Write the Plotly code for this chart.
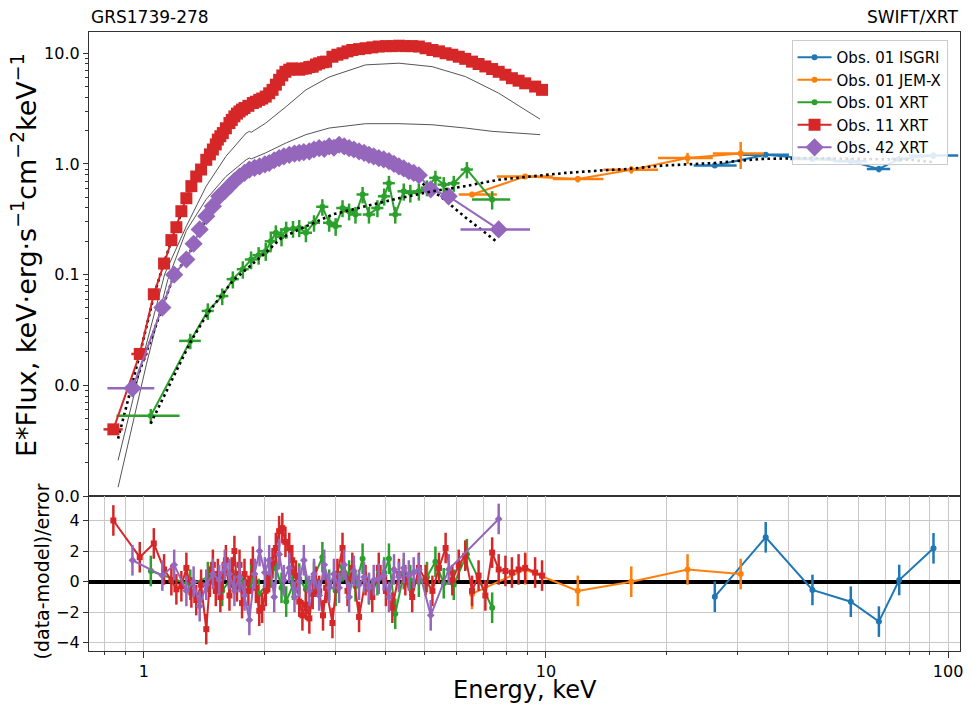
import plotly.graph_objects as go

# ---------------- data ----------------
RED_E = [0.84, 0.977, 1.059, 1.123, 1.171, 1.205, 1.24, 1.276, 1.313, 1.35,
         1.388, 1.43, 1.46, 1.485, 1.51, 1.528, 1.55, 1.572, 1.60, 1.633,
         1.655, 1.68, 1.705, 1.73, 1.755, 1.78, 1.82, 1.867, 1.90, 1.937,
         1.97, 2.01, 2.05, 2.09, 2.13, 2.17, 2.21, 2.25, 2.30, 2.34,
         2.39, 2.435, 2.48, 2.53, 2.58, 2.63, 2.68, 2.73, 2.79, 2.84,
         2.945, 3.03, 3.12, 3.21, 3.30, 3.43, 3.56, 3.70, 3.84, 4.00,
         4.15, 4.31, 4.47, 4.65, 4.83, 5.02, 5.22, 5.42, 5.63, 5.85,
         6.07, 6.30, 6.55, 6.80, 7.07, 7.35, 7.63, 7.93, 8.23, 8.55,
         8.88, 9.40, 9.78]
RED_F = [0.0040, 0.0192, 0.0665, 0.126, 0.205, 0.268, 0.374, 0.49, 0.63, 0.77,
         0.89, 1.09, 1.22, 1.35, 1.50, 1.66, 1.78, 1.90, 2.10, 2.34,
         2.50, 2.69, 2.85, 2.98, 3.10, 3.20, 3.35, 3.55, 3.65, 3.79,
         3.90, 4.06, 4.35, 4.67, 5.20, 5.75, 6.30, 6.80, 7.10, 7.30,
         7.20, 7.10, 7.25, 7.30, 7.50, 7.56, 7.90, 8.10, 8.30, 8.40,
         9.30, 9.70, 10.0, 10.4, 10.7, 10.9, 11.1, 11.3, 11.5, 11.6,
         11.6, 11.7, 11.6, 11.6, 11.5, 11.1, 10.7, 10.4, 10.0, 9.7,
         9.3, 8.9, 8.4, 8.0, 7.6, 7.2, 6.8, 6.4, 5.95, 5.65,
         5.35, 5.0, 4.67]
RED_XERR = [0.046, 0.046] + [0.0] * 81
RED_RES = [4.0, 1.6, 2.5, 0.8, 0.1, -0.5, -0.3, 0.9, -0.7, -1.2,
           -0.2, -3.1, 0.0, 1.1, -0.6, 0.5, -1.0, 0.3, 1.4, -0.9,
           0.6, 2.0, -0.3, 1.1, -1.4, 0.5, -0.6, 1.3, -0.4, -1.9,
           -1.7, -0.6, 0.3, 1.2, 2.2, 3.3, 3.5, 2.6, 2.2, 1.4,
           0.4, -1.3, -2.2, -1.5, -2.4, -0.8, 0.0, -0.6, -2.2, -0.4,
           -2.7, 0.5, 2.2, -0.6, 0.9, -2.3, 0.1, -1.0, 0.9, -0.6,
           -1.7, 0.5, 0.1, -1.0, 0.9, 0.1, -0.6, 0.9, 2.2, 0.1,
           1.1, 1.7, -0.6, 0.4, -0.9, 1.9, 0.8, 0.7, 0.6, 0.8,
           0.9, 0.6, 0.4]

PURPLE_E = [0.937, 1.112, 1.19, 1.276, 1.33, 1.377, 1.43, 1.485, 1.54, 1.59,
            1.633, 1.68, 1.73, 1.78, 1.83, 1.885, 1.94, 2.00, 2.05, 2.11,
            2.17, 2.23, 2.30, 2.37, 2.435, 2.50, 2.58, 2.65, 2.73, 2.81,
            2.89, 2.97, 3.06, 3.15, 3.24, 3.33, 3.43, 3.53, 3.63, 3.73,
            3.84, 3.95, 4.07, 4.19, 4.31, 4.43, 4.56, 4.69, 4.83, 5.17,
            5.73, 7.63]
PURPLE_F = [0.0094, 0.0504, 0.100, 0.137, 0.190, 0.256, 0.337, 0.415, 0.51, 0.57,
            0.63, 0.70, 0.77, 0.83, 0.89, 0.92, 0.95, 0.99, 1.02, 1.08,
            1.13, 1.17, 1.21, 1.24, 1.26, 1.28, 1.30, 1.35, 1.39, 1.37,
            1.44, 1.40, 1.49, 1.44, 1.39, 1.35, 1.30, 1.26, 1.21, 1.17,
            1.13, 1.10, 1.06, 1.00, 0.95, 0.91, 0.86, 0.83, 0.79, 0.59,
            0.51, 0.256]
PURPLE_XERR = [0.125] + [0.0] * 50 + [1.5]
PURPLE_RES = [1.4, 0.4, 1.1, -0.6, 0.0, -1.6, -0.2, 0.5, 0.1, 1.1,
              0.5, -0.6, 0.3, -0.9, -2.5, 0.5, 2.0, 0.6, 1.4, -1.0,
              1.8, 0.1, 0.9, -1.0, 0.0, 1.4, -0.6, 0.5, -0.9, 1.1,
              -0.4, 0.5, -0.4, 1.1, -1.0, 0.7, -0.2, 0.3, -0.4, 0.1,
              0.2, 0.4, -1.0, 0.8, 0.3, 0.9, 0.4, 0.6, 0.8, -2.2,
              0.8, 4.1]

GREEN_E = [1.041, 1.305, 1.443, 1.567, 1.665, 1.763, 1.848, 1.93, 2.01, 2.07,
           2.13, 2.20, 2.26, 2.35, 2.435, 2.53, 2.65, 2.78, 2.89, 3.00,
           3.12, 3.24, 3.36, 3.50, 3.63, 3.81, 3.96, 4.07, 4.22, 4.43,
           4.60, 4.83, 5.06, 5.31, 5.57, 5.90, 6.36, 7.35]
GREEN_F = [0.0053, 0.0252, 0.047, 0.064, 0.091, 0.112, 0.137, 0.150, 0.163, 0.200,
           0.239, 0.220, 0.256, 0.260, 0.265, 0.239, 0.294, 0.41, 0.294, 0.274,
           0.40, 0.374, 0.349, 0.53, 0.349, 0.40, 0.51, 0.67, 0.349, 0.566,
           0.548, 0.566, 0.61, 0.748, 0.65, 0.67, 0.89, 0.477]
GREEN_YERR = [0.0008, 0.004, 0.008, 0.011, 0.016, 0.02, 0.025, 0.027, 0.03, 0.035,
              0.04, 0.04, 0.045, 0.045, 0.047, 0.043, 0.05, 0.07, 0.05, 0.05,
              0.07, 0.065, 0.06, 0.09, 0.06, 0.07, 0.09, 0.11, 0.06, 0.1,
              0.1, 0.1, 0.1, 0.12, 0.11, 0.11, 0.15, 0.09]
GREEN_XERR = [0.186, 0.081, 0.05, 0.055, 0.058, 0.06, 0.065, 0.067, 0.07, 0.072,
              0.075, 0.077, 0.08, 0.08, 0.085, 0.09, 0.093, 0.097, 0.1, 0.105,
              0.11, 0.113, 0.118, 0.12, 0.127, 0.133, 0.14, 0.14, 0.15, 0.155,
              0.16, 0.17, 0.18, 0.185, 0.195, 0.2, 0.22, 0.8]
GREEN_RES = [0.7, -0.2, 0.3, -0.6, 0.4, -0.5, 0.2, -0.8, -0.3, 0.6,
             0.9, -0.4, -1.3, -0.2, 0.2, -0.5, 0.3, 1.6, -0.2, -0.6,
             1.0, 0.4, -0.3, 1.5, -0.5, 0.1, 0.6, 1.5, -2.1, 0.5,
             0.1, 0.0, 0.3, 1.3, -0.1, -0.2, 1.8, -1.7]

JEMX_E = [6.55, 8.88, 12.0, 16.3, 22.5, 30.5]
JEMX_F = [0.53, 0.77, 0.73, 0.887, 1.13, 1.24]
JEMX_XM = [0.48, 1.33, 1.6, 2.4, 3.5, 4.5]
JEMX_XP = [1.0, 1.52, 1.9, 2.7, 3.5, 4.3]
JEMX_YERR = [0.03, 0.04, 0.05, 0.07, 0.13, 0.34]
JEMX_RES = [-0.8, 0.8, -0.6, 0.0, 0.8, 0.5]

ISGRI_E = [26.3, 35.2, 46.0, 57.3, 67.3, 75.6, 92.0]
ISGRI_F = [0.97, 1.21, 1.11, 1.055, 0.90, 1.11, 1.19]
ISGRI_XM = [3.0, 4.5, 5.5, 5.5, 4.5, 3.5, 12.0]
ISGRI_XP = [3.5, 5.0, 6.0, 5.5, 4.5, 4.5, 14.0]
ISGRI_YERR = [0.05, 0.04, 0.04, 0.05, 0.06, 0.07, 0.08]
ISGRI_RES = [-0.98, 2.9, -0.54, -1.31, -2.61, 0.11, 2.18]

RESID_ERR = 1.0

# model curves
REDM_E = [0.863, 0.977, 1.06, 1.12, 1.2, 1.3, 1.4, 1.5, 1.6, 1.7, 1.8, 1.9, 2.0, 2.1,
          2.2, 2.35, 2.5, 2.7, 2.9, 3.2, 3.6, 4.0, 4.4, 4.8, 5.2, 5.6, 6.0, 6.5, 7.0,
          7.6, 8.2, 8.9, 9.7]
REDM_F = [0.0033, 0.019, 0.065, 0.125, 0.26, 0.58, 0.93, 1.45, 2.05, 2.75, 3.25, 3.65,
          4.05, 4.8, 6.2, 7.1, 7.3, 7.9, 9.0, 10.3, 11.1, 11.5, 11.6, 11.4, 10.7, 10.0,
          9.4, 8.5, 7.7, 6.8, 5.95, 5.3, 4.5]
PURM_E = [0.94, 1.11, 1.19, 1.28, 1.38, 1.48, 1.63, 1.83, 2.05, 2.3, 2.6, 2.9, 3.2,
          3.6, 4.0, 4.5, 5.0, 5.5, 6.3, 7.0, 7.6]
PURM_F = [0.0092, 0.05, 0.1, 0.14, 0.25, 0.41, 0.62, 0.87, 1.03, 1.2, 1.32, 1.40, 1.40,
          1.25, 1.08, 0.88, 0.64, 0.50, 0.33, 0.245, 0.194]
BBM_E = [1.04, 1.305, 1.443, 1.665, 2.01, 2.2, 2.435, 2.95, 3.56, 4.31, 5.21, 6.3,
         7.63, 9.23, 11.2, 13.5, 16.0, 19.4, 26.3, 34.3, 45.6, 60.7, 80.8, 91.3]
BBM_F = [0.0045, 0.0245, 0.045, 0.088, 0.158, 0.215, 0.256, 0.35, 0.415, 0.49, 0.566,
         0.63, 0.72, 0.77, 0.83, 0.87, 0.90, 0.965, 1.02, 1.11, 1.13, 1.11, 1.09, 1.04]
GRAY1_E = [0.863, 1.015, 1.127, 1.276, 1.43, 1.60, 1.797, 1.83, 1.85, 2.01, 2.26,
           2.53, 2.89, 3.56, 4.31, 5.21, 6.31, 7.63, 8.88, 9.67]
GRAY1_F = [0.0021, 0.0236, 0.101, 0.274, 0.63, 1.17, 1.90, 1.97, 1.93, 2.34, 3.30,
           4.67, 6.1, 7.85, 8.13, 7.57, 6.15, 4.36, 3.08, 2.54]
GRAY2_E = [0.863, 1.015, 1.147, 1.276, 1.43, 1.60, 1.797, 1.83, 1.85, 2.01, 2.26,
           2.53, 2.89, 3.56, 4.31, 5.21, 6.31, 7.35, 9.67]
GRAY2_F = [0.0012, 0.0155, 0.09, 0.25, 0.48, 0.77, 1.09, 1.13, 1.11, 1.26, 1.55,
           1.84, 2.11, 2.31, 2.31, 2.26, 2.11, 1.97, 1.84]

Y_TICKS = [0.001, 0.01, 0.1, 1, 10]
Y_TICKTEXT = ["0.0", "0.0", "0.1", "1.0", "10.0"]
X_TICKS = [1, 10, 100]
X_TICKTEXT = ["1", "10", "100"]
RES_TICKS = [-4, -2, 0, 2, 4]

BLUE, ORANGE, GREEN, RED, PURPLE = "#1f77b4", "#ff7f0e", "#2ca02c", "#d62728", "#9467bd"
FONT = "DejaVu Sans"

x_minor = [m * 10 ** d for d in (-1, 0, 1) for m in range(2, 10) if 0.7 < m * 10 ** d < 108]
y_minor = [m * 10 ** d for d in (-3, -2, -1, 0, 1) for m in range(2, 10) if m * 10 ** d < 15.5]

fig = go.Figure()

# thin grey component curves and dotted model curves (drawn beneath the data)
for ex, fx in ((GRAY1_E, GRAY1_F), (GRAY2_E, GRAY2_F)):
    fig.add_trace(go.Scatter(x=ex, y=fx, mode="lines", showlegend=False,
                             line=dict(color="#555555", width=1), xaxis="x", yaxis="y"))
for ex, fx in ((REDM_E, REDM_F), (PURM_E, PURM_F)):
    fig.add_trace(go.Scatter(x=ex, y=fx, mode="lines", showlegend=False,
                             line=dict(color="black", width=2.6, dash="2.6px,3.4px"),
                             xaxis="x", yaxis="y"))


def data_trace(name, x, y, color, symbol, msize, xm=None, xp=None, yerr=None):
    kw = {}
    if xm is not None:
        kw["error_x"] = dict(type="data", array=xp, arrayminus=xm, symmetric=False,
                             color=color, thickness=2.5, width=0)
    if yerr is not None:
        kw["error_y"] = dict(type="data", array=yerr, color=color, thickness=2.5, width=0)
    return go.Scatter(x=x, y=y, name=name, mode="lines+markers",
                      line=dict(color=color, width=2),
                      marker=dict(color=color, symbol=symbol, size=msize, line=dict(width=0)),
                      xaxis="x", yaxis="y", **kw)


fig.add_trace(data_trace("Obs. 01 ISGRI", ISGRI_E, ISGRI_F, BLUE, "circle", 6,
                         ISGRI_XM, ISGRI_XP, ISGRI_YERR))
fig.add_trace(data_trace("Obs. 01 JEM-X", JEMX_E, JEMX_F, ORANGE, "circle", 6,
                         JEMX_XM, JEMX_XP, JEMX_YERR))
fig.add_trace(data_trace("Obs. 01 XRT", GREEN_E, GREEN_F, GREEN, "circle", 6,
                         GREEN_XERR, GREEN_XERR, GREEN_YERR))
fig.add_trace(data_trace("Obs. 11 XRT", RED_E, RED_F, RED, "square", 12,
                         RED_XERR, RED_XERR, None))
fig.add_trace(data_trace("Obs. 42 XRT", PURPLE_E, PURPLE_F, PURPLE, "diamond", 14,
                         PURPLE_XERR, PURPLE_XERR, None))

# broadband model on top of the green / JEM-X / ISGRI points
fig.add_trace(go.Scatter(x=BBM_E, y=BBM_F, mode="lines", showlegend=False,
                         line=dict(color="black", width=2.6, dash="2.6px,3.4px"),
                         xaxis="x", yaxis="y"))

# residuals
for ex, rx, color, sym in ((ISGRI_E, ISGRI_RES, BLUE, "circle"),
                           (JEMX_E, JEMX_RES, ORANGE, "circle"),
                           (GREEN_E, GREEN_RES, GREEN, "circle"),
                           (RED_E, RED_RES, RED, "square"),
                           (PURPLE_E, PURPLE_RES, PURPLE, "diamond")):
    fig.add_trace(go.Scatter(x=ex, y=rx, mode="lines+markers", showlegend=False,
                             line=dict(color=color, width=2),
                             marker=dict(color=color, symbol=sym, size=6, line=dict(width=0)),
                             error_y=dict(type="constant", value=RESID_ERR, color=color,
                                          thickness=2.5, width=0),
                             xaxis="x2", yaxis="y2"))

SPLIT = 155 / 619
XR = [-0.1363, 2.0297]
axis_common = dict(showline=True, linecolor="#333333", linewidth=1.2, mirror=True,
                   ticks="outside", tickcolor="#333333", tickwidth=1.2,
                   tickfont=dict(family=FONT, size=16, color="black"))

fig.update_layout(
    width=971, height=705,
    margin=dict(l=89, r=8, t=32, b=54),
    paper_bgcolor="white", plot_bgcolor="white",
    font=dict(family=FONT, color="black"),
    xaxis=dict(type="log", range=XR, domain=[0, 1], anchor="y", showgrid=False,
               tickvals=X_TICKS, showticklabels=False, ticklen=5, zeroline=False,
               minor=dict(tickvals=x_minor, ticks="outside", ticklen=3, tickcolor="#333333"),
               **axis_common),
    yaxis=dict(type="log", range=[-3, 1.192], domain=[SPLIT, 1], anchor="x", showgrid=False,
               tickvals=Y_TICKS, ticktext=Y_TICKTEXT, ticklen=5, zeroline=False,
               minor=dict(tickvals=y_minor, ticks="outside", ticklen=3, tickcolor="#333333"),
               **axis_common),
    xaxis2=dict(type="log", range=XR, domain=[0, 1], anchor="y2", matches="x",
                tickvals=X_TICKS, ticktext=X_TICKTEXT, ticklen=6, zeroline=False,
                showgrid=True, gridcolor="#c8c8c8", gridwidth=1,
                minor=dict(tickvals=x_minor, ticks="outside", ticklen=3, tickcolor="#333333",
                           showgrid=True, gridcolor="#c8c8c8", gridwidth=1),
                **axis_common),
    yaxis2=dict(range=[-4.53, 5.6], domain=[0, SPLIT], anchor="x2",
                tickvals=RES_TICKS, ticklen=5,
                showgrid=True, gridcolor="#c8c8c8", gridwidth=1,
                zeroline=True, zerolinecolor="black", zerolinewidth=3.5,
                **axis_common),
    legend=dict(x=0.8066, y=0.987, xanchor="left", yanchor="top",
                bgcolor="rgba(255,255,255,0.85)", bordercolor="#cccccc", borderwidth=1,
                font=dict(family=FONT, size=15, color="black"), tracegroupgap=0,
                itemwidth=34),
    annotations=[
        dict(text="GRS1739-278", xref="paper", yref="paper", x=0, y=1.0247,
             xanchor="left", yanchor="middle", showarrow=False,
             font=dict(family=FONT, size=17, color="black")),
        dict(text="SWIFT/XRT", xref="paper", yref="paper", x=1, y=1.0247,
             xanchor="right", yanchor="middle", showarrow=False,
             font=dict(family=FONT, size=17, color="black")),
        dict(text="E*Flux, keV·erg·s<sup>−1</sup>cm<sup>−2</sup>keV<sup>−1</sup>",
             xref="paper", yref="paper", x=-0.0744, y=0.64, textangle=-90,
             xanchor="center", yanchor="middle", showarrow=False,
             font=dict(family=FONT, size=27, color="black")),
        dict(text="(data-model)/error", xref="paper", yref="paper", x=-0.054, y=0.1284,
             textangle=-90, xanchor="center", yanchor="middle", showarrow=False,
             font=dict(family=FONT, size=19, color="black")),
        dict(text="Energy, keV", xref="paper", yref="paper", x=0.5, y=-0.063,
             xanchor="center", yanchor="middle", showarrow=False,
             font=dict(family=FONT, size=24, color="black")),
    ],
)

fig.write_html("out.html")
